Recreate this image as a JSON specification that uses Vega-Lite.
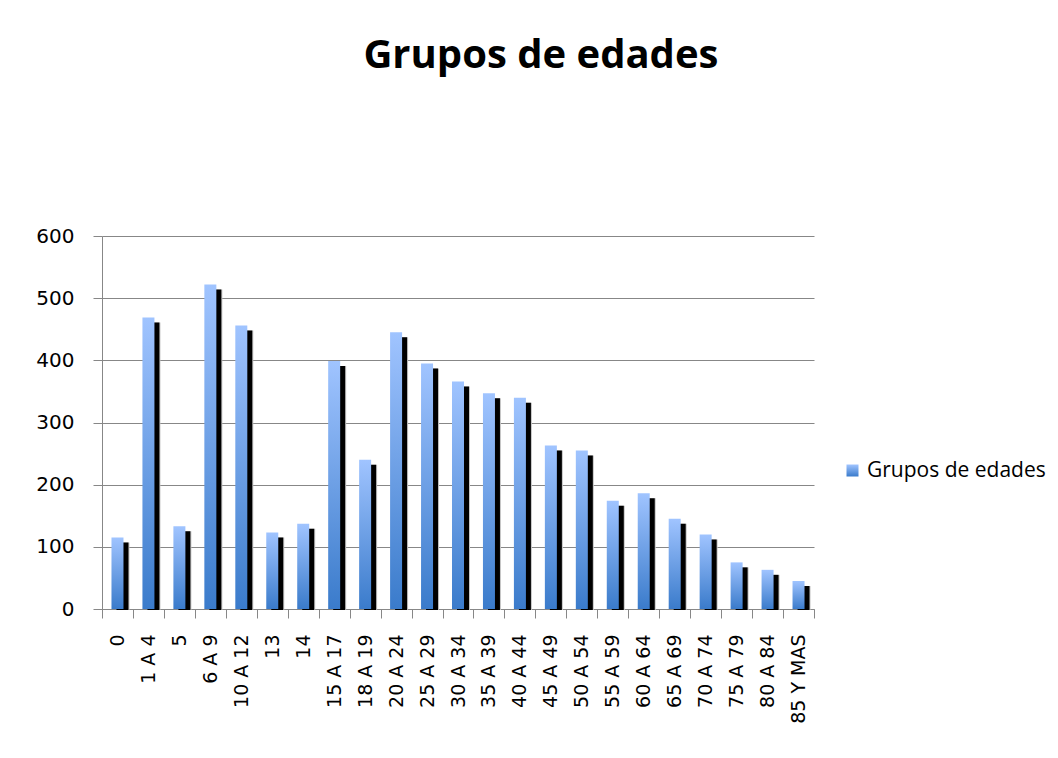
{
  "$schema": "https://vega.github.io/schema/vega-lite/v6.json",
  "width": 712,
  "height": 373,
  "padding": {"left": 35, "top": 36, "right": 5, "bottom": 5},
  "background": "white",
  "title": {"text": "Grupos de edades", "font": "Open Sans", "fontSize": 40, "fontWeight": "bold", "color": "#000000", "anchor": "middle", "frame": "bounds", "offset": 150},
  "data": {"values": [
    {"grupo": "0", "valor": 115},
    {"grupo": "1 A 4", "valor": 469},
    {"grupo": "5", "valor": 133},
    {"grupo": "6 A 9", "valor": 522},
    {"grupo": "10 A 12", "valor": 456},
    {"grupo": "13", "valor": 123},
    {"grupo": "14", "valor": 137},
    {"grupo": "15 A 17", "valor": 399},
    {"grupo": "18 A 19", "valor": 240},
    {"grupo": "20 A 24", "valor": 445},
    {"grupo": "25 A 29", "valor": 395},
    {"grupo": "30 A 34", "valor": 366},
    {"grupo": "35 A 39", "valor": 347},
    {"grupo": "40 A 44", "valor": 340},
    {"grupo": "45 A 49", "valor": 263},
    {"grupo": "50 A 54", "valor": 255},
    {"grupo": "55 A 59", "valor": 174},
    {"grupo": "60 A 64", "valor": 186},
    {"grupo": "65 A 69", "valor": 145},
    {"grupo": "70 A 74", "valor": 120},
    {"grupo": "75 A 79", "valor": 75},
    {"grupo": "80 A 84", "valor": 63},
    {"grupo": "85 Y MAS", "valor": 45}
  ]},
  "encoding": {
    "x": {
      "field": "grupo", "type": "nominal", "sort": null,
      "scale": {"paddingInner": 0, "paddingOuter": 0},
      "axis": {"title": null, "labelAngle": -90, "tickBand": "extent", "tickSize": 9, "tickColor": "#878787", "domainColor": "#878787", "labelFont": "DejaVu Sans", "labelFontSize": 19, "labelColor": "#000000", "labelPadding": 16, "grid": false}
    },
    "y": {
      "field": "valor", "type": "quantitative",
      "scale": {"domain": [0, 600], "nice": false},
      "axis": {"title": null, "values": [0, 100, 200, 300, 400, 500, 600], "tickSize": 9, "tickColor": "#878787", "domainColor": "#878787", "gridColor": "#878787", "labelFont": "DejaVu Sans", "labelFontSize": 20, "labelColor": "#000000", "labelPadding": 19}
    }
  },
  "layer": [
    {"mark": {"type": "bar", "size": 12, "color": "#c4c4c4", "xOffset": 6, "yOffset": 5, "y2Offset": 1}, "encoding": {"y2": {"datum": 0}}},
    {"mark": {"type": "bar", "size": 12, "color": "#000000", "xOffset": 5, "yOffset": 5, "y2Offset": 1}, "encoding": {"y2": {"datum": 0}}},
    {
      "mark": {"type": "bar", "size": 12, "strokeWidth": 0, "fill": {"gradient": "linear", "x1": 0, "y1": 0, "x2": 0, "y2": 1, "stops": [{"offset": 0, "color": "#A0C4FF"}, {"offset": 1, "color": "#3A7BCB"}]}},
      "encoding": {
        "stroke": {
          "datum": "Grupos de edades",
          "type": "nominal",
          "scale": {"range": ["#6F9FE8"]},
          "legend": {"title": null, "orient": "none", "legendX": 740, "legendY": 224, "symbolType": "square", "symbolSize": 144, "symbolStrokeWidth": 0, "symbolFillColor": "#6F9FE8", "labelFont": "Open Sans", "labelFontSize": 21, "labelColor": "#000000", "labelOffset": 4, "labelLimit": 0, "padding": 0}
        }
      }
    }
  ],
  "config": {"view": {"stroke": null}}
}
